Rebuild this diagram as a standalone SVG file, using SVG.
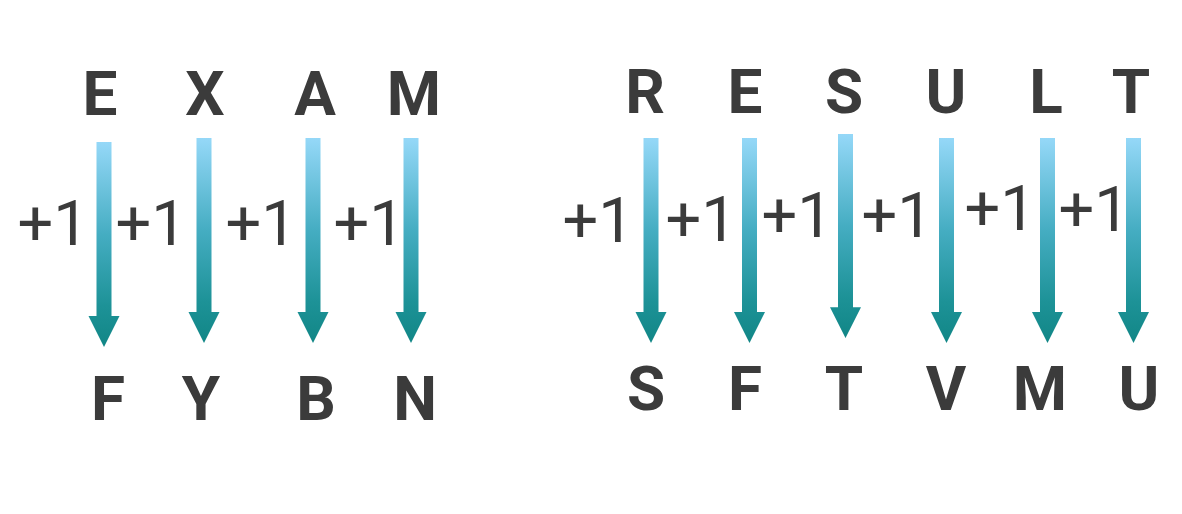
<svg xmlns="http://www.w3.org/2000/svg" width="1182" height="514" viewBox="0 0 1182 514">
<defs>
<linearGradient id="g" x1="0" y1="0" x2="0" y2="1">
<stop offset="0" stop-color="#95d8f8"/>
<stop offset="0.45" stop-color="#45adc2"/>
<stop offset="0.8" stop-color="#1d9297"/>
<stop offset="1" stop-color="#118686"/>
</linearGradient>
<path id="arr" d="M-7.5,0 H7.5 V174 H15.5 L0,205 L-15.5,174 H-7.5 Z"/>
</defs>
<style>
.l{font-family:Roboto,"Liberation Sans",sans-serif;font-weight:700;font-size:62px;fill:#3b3b3b;text-anchor:middle}
.p{font-family:Roboto,"Liberation Sans",sans-serif;font-weight:400;font-size:63px;fill:#3b3b3b;text-anchor:middle}
.a{fill:url(#g)}
</style>
<rect width="1182" height="514" fill="#ffffff"/>
<g id="connectors">
<use href="#arr" class="a" transform="translate(104,142)"/>
<use href="#arr" class="a" transform="translate(204,138)"/>
<use href="#arr" class="a" transform="translate(313,138)"/>
<use href="#arr" class="a" transform="translate(411,138)"/>
<use href="#arr" class="a" transform="translate(651,138)"/>
<use href="#arr" class="a" transform="translate(749.5,138)"/>
<use href="#arr" class="a" transform="translate(845.5,134) scale(1,0.995)"/>
<use href="#arr" class="a" transform="translate(946.5,138)"/>
<use href="#arr" class="a" transform="translate(1047.5,138)"/>
<use href="#arr" class="a" transform="translate(1133.5,138)"/>
</g>
<g id="labels">
<text class="p" x="53" y="245">+1</text>
<text class="p" x="151" y="245">+1</text>
<text class="p" x="261" y="245">+1</text>
<text class="p" x="369" y="245">+1</text>
<text class="p" x="598" y="242">+1</text>
<text class="p" x="701" y="241">+1</text>
<text class="p" x="797" y="237">+1</text>
<text class="p" x="897" y="237">+1</text>
<text class="p" x="1000" y="230">+1</text>
<text class="p" x="1094" y="231">+1</text>
</g>
<g id="word-exam">
<text class="l" x="100" y="115">E</text>
<text class="l" x="205" y="115">X</text>
<text class="l" x="315" y="115">A</text>
<text class="l" x="414" y="115">M</text>
</g>
<g id="word-fybn">
<text class="l" x="108" y="420">F</text>
<text class="l" x="201" y="420">Y</text>
<text class="l" x="316" y="420">B</text>
<text class="l" x="415" y="420">N</text>
</g>
<g id="word-result">
<text class="l" x="645" y="113">R</text>
<text class="l" x="745" y="113">E</text>
<text class="l" x="844" y="113">S</text>
<text class="l" x="946" y="113">U</text>
<text class="l" x="1046" y="113">L</text>
<text class="l" x="1131" y="113">T</text>
</g>
<g id="word-sftvmu">
<text class="l" x="646" y="410">S</text>
<text class="l" x="745" y="410">F</text>
<text class="l" x="844" y="410">T</text>
<text class="l" x="946" y="410">V</text>
<text class="l" x="1040" y="410">M</text>
<text class="l" x="1139" y="410">U</text>
</g>
</svg>
